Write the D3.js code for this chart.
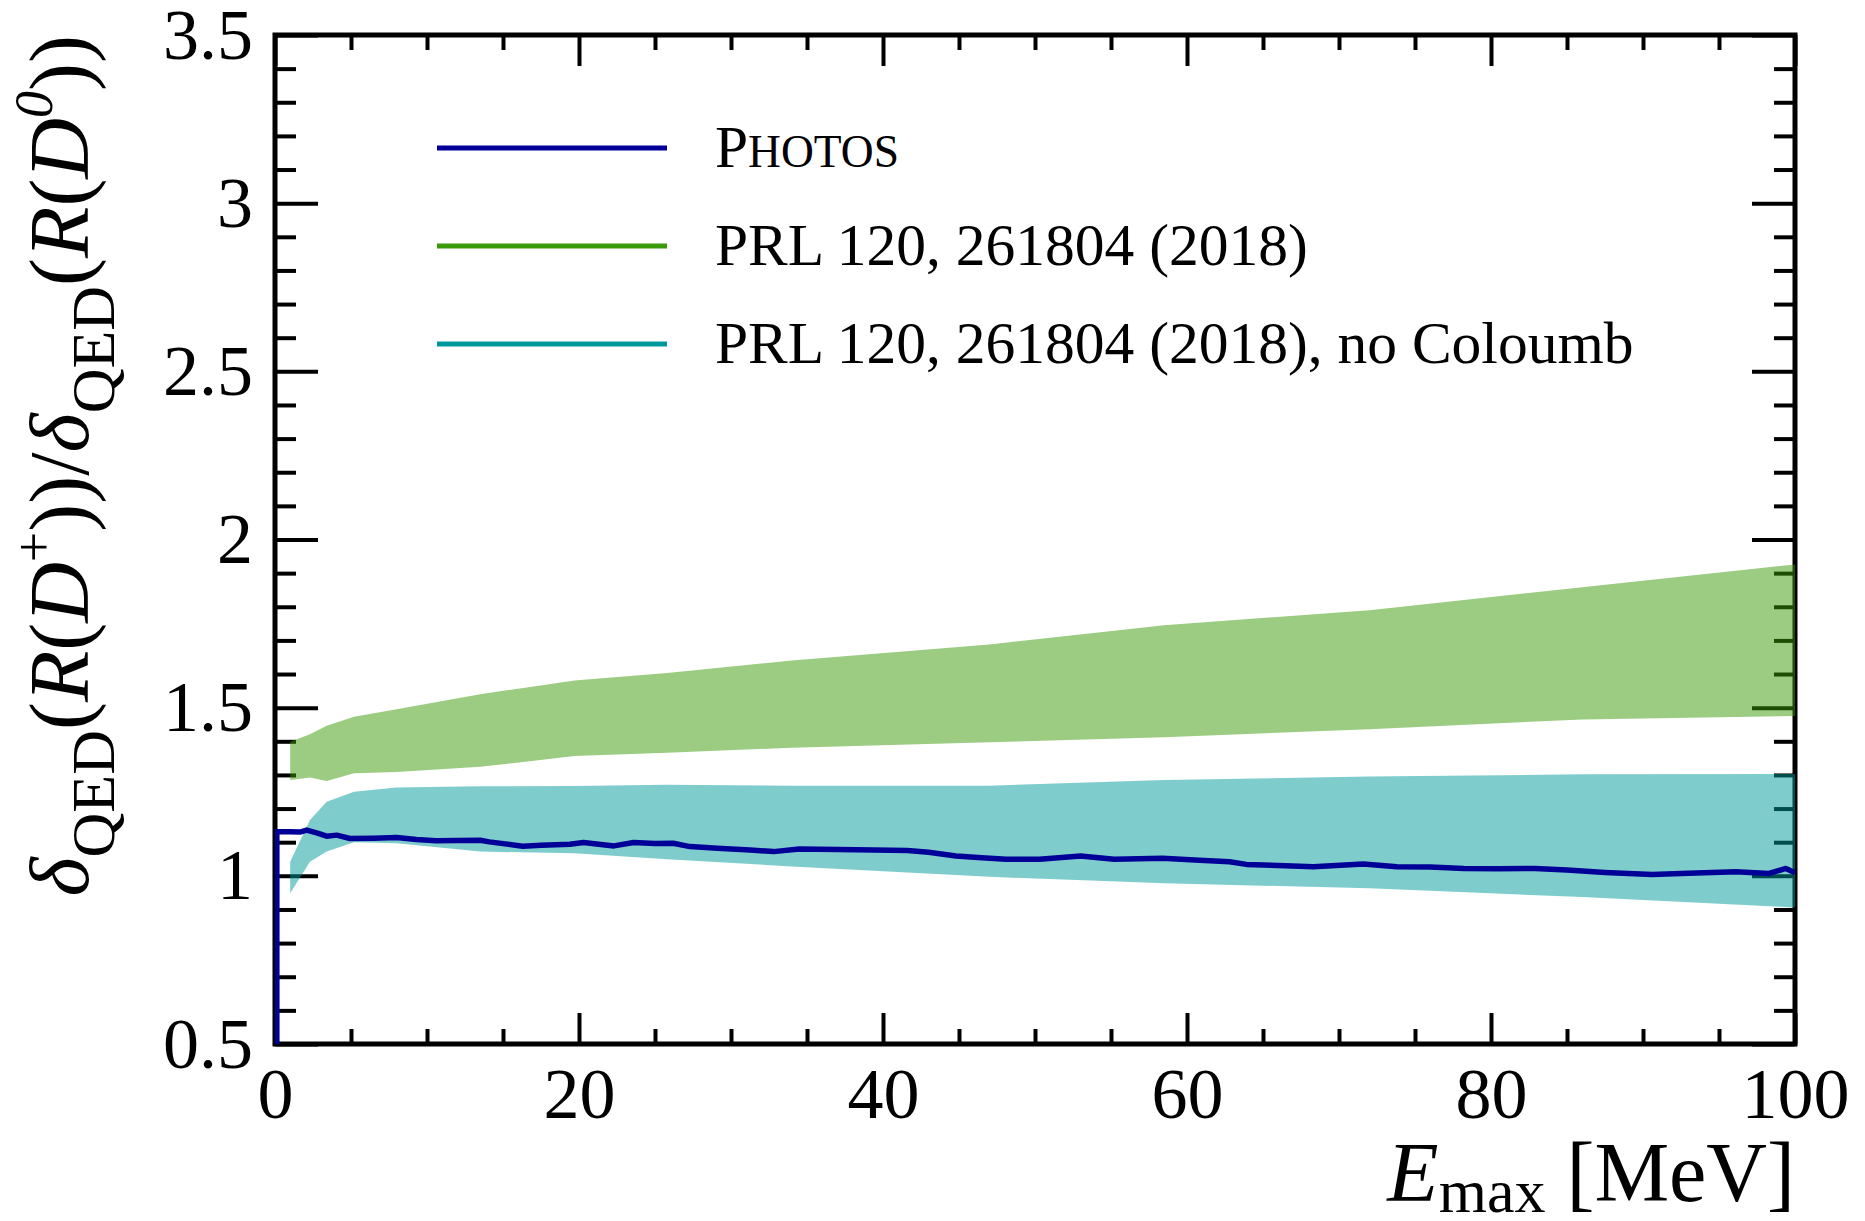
<!DOCTYPE html>
<html><head><meta charset="utf-8">
<script src="https://cdn.jsdelivr.net/npm/d3@7"></script>
<style>
body{margin:0;background:#fff}
text{font-family:"Liberation Serif","Times New Roman",serif;}
</style>
</head><body>
<svg id="c" width="1865" height="1221"></svg>
<script>
// ---------------- data ----------------
const xTicks = [0, 20, 40, 60, 80, 100];
const yTicks = [0.5, 1, 1.5, 2, 2.5, 3, 3.5];
const xMinor = [5,10,15,25,30,35,45,50,55,65,70,75,85,90,95];
const yMinor = [0.6,0.7,0.8,0.9,1.1,1.2,1.3,1.4,1.6,1.7,1.8,1.9,2.1,2.2,2.3,2.4,2.6,2.7,2.8,2.9,3.1,3.2,3.3,3.4];

// band knots (E_max in MeV)
const bandX = [1, 2.3, 3.4, 5.2, 8, 13.5, 19.7, 25.8, 34, 47, 58.5, 72, 86, 100];
// PRL 120, 261804 (2018)
const prlLo = [1.285, 1.292, 1.282, 1.305, 1.309, 1.324, 1.356, 1.366, 1.381, 1.397, 1.412, 1.436, 1.465, 1.475];
const prlHi = [1.399, 1.421, 1.446, 1.473, 1.495, 1.540, 1.581, 1.603, 1.640, 1.688, 1.745, 1.790, 1.858, 1.926];
// PRL 120, 261804 (2018), no Coloumb
const ncLo  = [0.948, 1.042, 1.072, 1.100, 1.097, 1.072, 1.067, 1.049, 1.028, 0.997, 0.978, 0.963, 0.937, 0.906];
const ncHi  = [1.042, 1.166, 1.220, 1.250, 1.263, 1.266, 1.267, 1.271, 1.268, 1.268, 1.285, 1.295, 1.302, 1.303];

// PHOTOS
const photosX = [0.12, 0.12, 1.0, 1.64, 2.08, 2.74, 3.4, 4.06, 4.93, 6.5, 8.0, 9.3, 10.6, 12, 13.5, 14.1, 16.3, 17.5,
  19.4, 20.3, 22.3, 23.6, 25, 26.2, 27.3, 29.1, 31.25, 32.8, 34.5, 37, 39.4, 41.6, 43, 44.8, 46.5, 48.1, 50.3,
  53.0, 55.2, 58.4, 60.5, 62.8, 63.9, 66, 68.3, 71.6, 73.8, 76, 78.2, 80.5, 82.9, 85, 87.5, 90.6, 93, 96.1, 98.3, 99.4, 100];
const photosY = [0.45, 1.131, 1.131, 1.130, 1.136, 1.128, 1.118, 1.121, 1.111, 1.112, 1.114, 1.108, 1.104, 1.105, 1.106, 1.101, 1.088, 1.091,
  1.094, 1.099, 1.089, 1.099, 1.096, 1.097, 1.087, 1.082, 1.077, 1.072, 1.080, 1.078, 1.077, 1.075, 1.070, 1.059, 1.054, 1.049, 1.049,
  1.059, 1.049, 1.052, 1.047, 1.042, 1.034, 1.031, 1.027, 1.035, 1.027, 1.026, 1.022, 1.021, 1.022, 1.017, 1.010, 1.004, 1.008, 1.012, 1.007, 1.022, 1.009];

const legendLabels = ["PRL 120, 261804 (2018)", "PRL 120, 261804 (2018), no Coloumb"];
const colPhotos = "#000099", colPRL = "#389a06", colNC = "#009999";

// ---------------- drawing ----------------
const svg = d3.select("#c");
const L = 275, R = 1795, T = 35, B = 1044;
const x = d3.scaleLinear().domain([0, 100]).range([L, R]);
const y = d3.scaleLinear().domain([0.5, 3.5]).range([B, T]);

svg.append("rect").attr("width",1865).attr("height",1221).attr("fill","#fff");

function tickAxis(axis, tr, vals, size){
  const g = svg.append("g").attr("transform", tr)
    .call(axis.tickValues(vals).tickSize(size).tickFormat(""));
  g.select(".domain").remove();
  g.selectAll("line").attr("stroke","#000").attr("stroke-width",4);
  g.selectAll("text").remove();
}
tickAxis(d3.axisBottom(x), `translate(0,${B})`, xTicks, -31);
tickAxis(d3.axisBottom(x), `translate(0,${B})`, xMinor, -15);
tickAxis(d3.axisTop(x), `translate(0,${T})`, xTicks, -31);
tickAxis(d3.axisTop(x), `translate(0,${T})`, xMinor, -15);
tickAxis(d3.axisLeft(y), `translate(${L},0)`, yTicks, -43);
tickAxis(d3.axisLeft(y), `translate(${L},0)`, yMinor, -21);
tickAxis(d3.axisRight(y), `translate(${R},0)`, yTicks, -43);
tickAxis(d3.axisRight(y), `translate(${R},0)`, yMinor, -21);

svg.append("rect").attr("x",L).attr("y",T).attr("width",R-L).attr("height",B-T)
  .attr("fill","none").attr("stroke","#000").attr("stroke-width",5);

// tick labels
const fmt = d3.format("~g");
const gx = svg.append("g").attr("transform",`translate(0,${B})`)
  .call(d3.axisBottom(x).tickValues(xTicks).tickSize(0).tickPadding(23).tickFormat(fmt));
gx.select(".domain").remove();
gx.selectAll("text").attr("font-family",'"Liberation Serif",serif').attr("font-size",72).attr("fill","#000");
const gy = svg.append("g").attr("transform",`translate(${L},0)`)
  .call(d3.axisLeft(y).tickValues(yTicks).tickSize(0).tickPadding(22).tickFormat(fmt));
gy.select(".domain").remove();
gy.selectAll("text").attr("font-family",'"Liberation Serif",serif').attr("font-size",72).attr("fill","#000");

// clip
svg.append("clipPath").attr("id","clip").append("rect").attr("x",L).attr("y",T).attr("width",R-L).attr("height",B-T);
const plot = svg.append("g").attr("clip-path","url(#clip)");

const area = d3.area().x(d=>x(d.x)).y0(d=>y(d.lo)).y1(d=>y(d.hi));
const prl = bandX.map((v,i)=>({x:v, lo:prlLo[i], hi:prlHi[i]}));
const nc  = bandX.map((v,i)=>({x:v, lo:ncLo[i], hi:ncHi[i]}));
plot.append("path").attr("d", area(prl)).attr("fill", colPRL).attr("fill-opacity",0.5);
plot.append("path").attr("d", area(nc)).attr("fill", colNC).attr("fill-opacity",0.5);

const line = d3.line().x(d=>x(d[0])).y(d=>y(d[1]));
plot.append("path").attr("d", line(photosX.map((v,i)=>[v, photosY[i]])))
  .attr("fill","none").attr("stroke",colPhotos).attr("stroke-width",5.5).attr("stroke-linejoin","round");

// legend
const legY = [148, 246, 344];
const legCols = [colPhotos, colPRL, colNC];
legY.forEach((ly,i)=>{
  svg.append("line").attr("x1",437).attr("x2",667).attr("y1",ly).attr("y2",ly)
    .attr("stroke",legCols[i]).attr("stroke-width",5);
});
const lt0 = svg.append("text").attr("x",715).attr("y",legY[0]+19).attr("font-size",59.5);
lt0.append("tspan").text("P");
lt0.append("tspan").attr("font-size",45.5).text("HOTOS");
legendLabels.forEach((t,i)=>{
  svg.append("text").attr("x",715).attr("y",legY[i+1]+19).attr("font-size",59.5).text(t);
});

// x title
const xt = svg.append("text").attr("x",R).attr("y",1201).attr("text-anchor","end").attr("font-size",84);
xt.append("tspan").attr("font-style","italic").text("E");
xt.append("tspan").attr("font-size",62).attr("dy",11).text("max");
xt.append("tspan").attr("dy",-11).text(" [MeV]");

// y title
const yt = svg.append("text").attr("transform",`translate(88,${T}) rotate(-90)`)
  .attr("text-anchor","end").attr("font-size",84);
const parts = [
  {t:"δ", it:1}, {t:"QED", s:62, dy:26}, {t:"(", dy:-26}, {t:"R", it:1}, {t:"("}, {t:"D", it:1},
  {t:"+", s:54, dy:-36}, {t:"))/", dy:36}, {t:"δ", it:1}, {t:"QED", s:62, dy:26},
  {t:"(", dy:-26}, {t:"R", it:1}, {t:"("}, {t:"D", it:1}, {t:"0", s:54, dy:-36, it:1}, {t:"))", dy:36}
];
parts.forEach(p=>{
  const ts = yt.append("tspan").text(p.t);
  if(p.it) ts.attr("font-style","italic");
  if(p.s) ts.attr("font-size",p.s);
  if(p.dy) ts.attr("dy",p.dy);
});
</script>
</body></html>
